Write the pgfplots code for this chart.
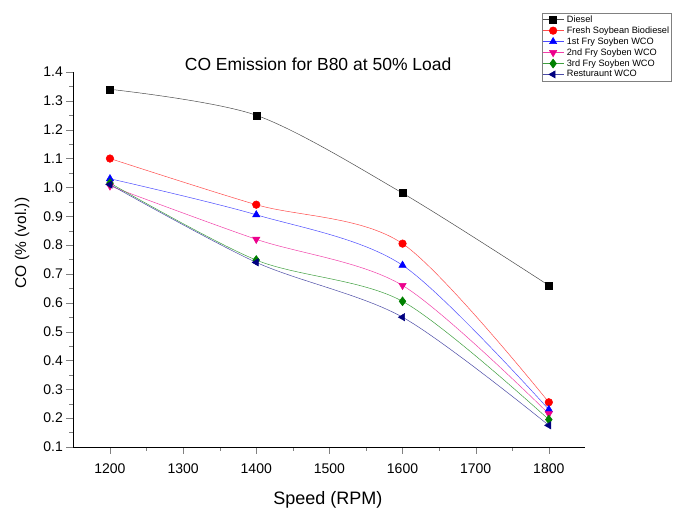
\documentclass[border=0pt]{standalone}
\usepackage{pgfplots}
\pgfplotsset{compat=1.18}
\usepackage{fontspec}
\setmainfont{Liberation Sans}
\definecolor{navyc}{RGB}{0,0,128}
\definecolor{greenc}{RGB}{0,128,0}
\begin{document}
\begin{tikzpicture}[x=1pt,y=1pt]
\path[use as bounding box] (-73.4,-63) rectangle (604.6,447);
\begin{axis}[
  at={(0,0)}, anchor=south west,
  scale only axis, width=512pt, height=375pt,
  xmin=1150, xmax=1850, ymin=0.1, ymax=1.4,
  axis x line*=bottom, axis y line*=left,
  xtick={1200,1300,...,1800}, minor x tick num=1,
  ytick={0.1,0.2,...,1.41}, minor y tick num=1,
  tick align=outside,
  major tick length=7pt, minor tick length=4pt,
  /pgf/number format/assume math mode=true,
  yticklabel style={/pgf/number format/fixed,/pgf/number format/fixed zerofill,/pgf/number format/precision=1},
  xticklabel style={/pgf/number format/1000 sep={}, yshift=-6pt},
  tick label style={font=\fontsize{14}{16}\selectfont},
  xlabel={Speed (RPM)}, ylabel={CO (\% (vol.))},
  xlabel style={font=\fontsize{18}{20}\selectfont, at={(axis description cs:0.497,-0.14)}, anchor=center},
  ylabel style={font=\fontsize{15.5}{17}\selectfont, at={(axis description cs:-0.100,0.544)}, anchor=center},
  legend style={at={(0.915,1.157)}, anchor=north west, font=\fontsize{9.2}{10}\selectfont,
    draw=gray, inner sep=0.5pt, outer sep=0pt, row sep=-1.2pt, cells={anchor=west},
    /tikz/every odd column/.style={column sep=1pt}},
  legend image code/.code={\draw[mark repeat=2,mark phase=2] plot coordinates {(0pt,0pt) (10.5pt,0pt) (21pt,0pt)};},
  legend cell align=left,
  every axis plot/.append style={line width=0.5pt},
  clip=false,
]
\addplot[smooth, color=black!70, mark=square*, mark size=3.5pt, mark options={black}] coordinates {(1200,1.34) (1400,1.25) (1600,0.98) (1800,0.66)};
\addlegendentry{Diesel}
\addplot[smooth, color=red!70, mark=*, mark size=3.8pt, mark options={red}] coordinates {(1200,1.10) (1400,0.94) (1600,0.805) (1800,0.255)};
\addlegendentry{Fresh Soybean Biodiesel}
\addplot[smooth, color=blue!70, mark=triangle*, mark size=4.2pt, mark options={blue}] coordinates {(1200,1.03) (1400,0.905) (1600,0.73) (1800,0.23)};
\addlegendentry{1st Fry Soyben WCO}
\addplot[smooth, color=magenta!75, mark=triangle*, mark size=4.2pt, mark options={magenta, rotate=180}] coordinates {(1200,1.005) (1400,0.82) (1600,0.66) (1800,0.215)};
\addlegendentry{2nd Fry Soyben WCO}
\addplot[smooth, color=greenc!75, mark=diamond*, mark size=4.5pt, mark options={greenc}] coordinates {(1200,1.015) (1400,0.748) (1600,0.605) (1800,0.195)};
\addlegendentry{3rd Fry Soyben WCO}
\addplot[smooth, color=navyc!70, mark=triangle*, mark size=4.2pt, mark options={navyc, rotate=90}] coordinates {(1200,1.01) (1400,0.74) (1600,0.55) (1800,0.175)};
\addlegendentry{Resturaunt WCO}
\node[font=\fontsize{17.5}{19}\selectfont] at (axis description cs:0.478,1.021) {CO Emission for B80 at 50\% Load};
\end{axis}
\end{tikzpicture}
\end{document}
